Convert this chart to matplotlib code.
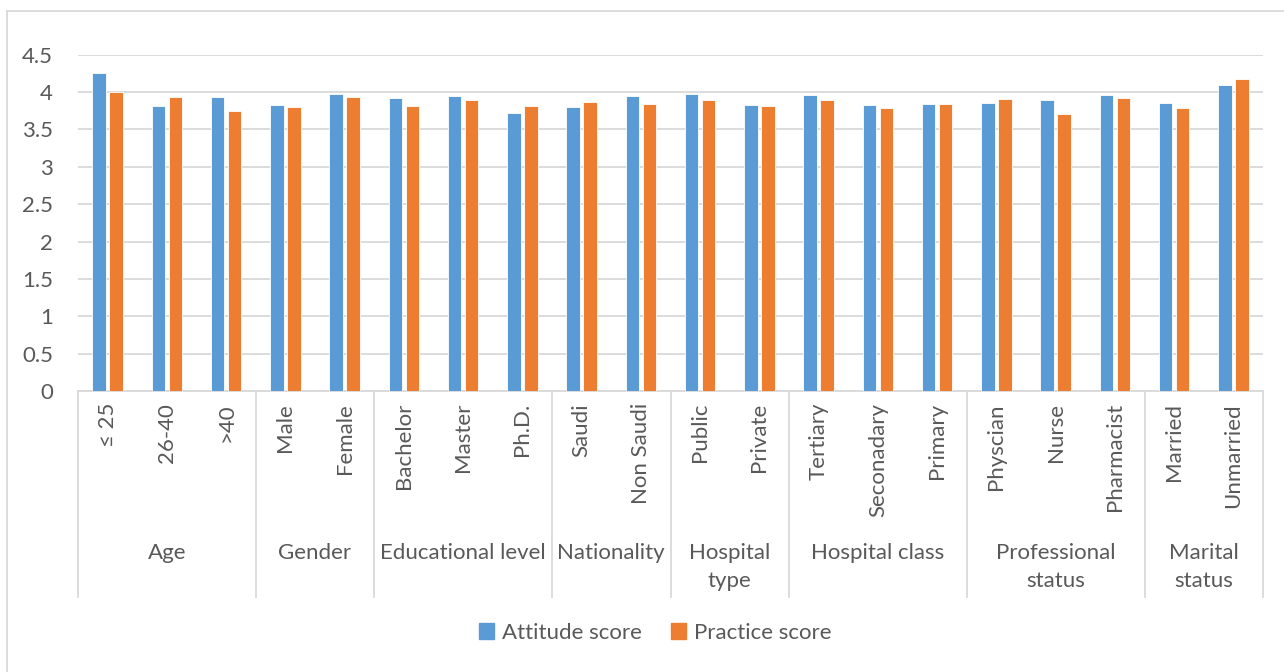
import numpy as np
import matplotlib.pyplot as plt
from matplotlib.patches import Patch
from matplotlib.lines import Line2D

# data
groups = ["Age", "Gender", "Educational level", "Nationality", "Hospital\ntype",
          "Hospital class", "Professional\nstatus", "Marital\nstatus"]
group_sizes = [3, 2, 3, 2, 2, 3, 3, 2]
categories = ["\u2264 25", "26-40", ">40", "Male", "Female", "Bachelor", "Master", "Ph.D.",
              "Saudi", "Non Saudi", "Public", "Private", "Tertiary", "Seconadary", "Primary",
              "Physcian", "Nurse", "Pharmacist", "Married", "Unmarried"]
attitude = [4.25, 3.81, 3.94, 3.83, 3.98, 3.92, 3.95, 3.72, 3.80, 3.95,
            3.97, 3.83, 3.96, 3.83, 3.84, 3.86, 3.90, 3.96, 3.86, 4.09]
practice = [4.00, 3.94, 3.74, 3.80, 3.93, 3.81, 3.90, 3.82, 3.87, 3.84,
            3.89, 3.82, 3.90, 3.79, 3.84, 3.91, 3.70, 3.92, 3.79, 4.18]
series_names = ["Attitude score", "Practice score"]

W, H = 1284, 672
BLUE, ORANGE = "#5B9BD5", "#ED7D31"
GRID = "#d9d9d9"
TXT = "#595959"
FS = 16

plt.rcParams['font.family'] = ['Lato', 'DejaVu Sans']

fig = plt.figure(figsize=(W / 100, H / 100), dpi=100)
# plot area in pixels: x 78..1263, y 54.7..391
left, right, top, bottom = 78, 1263, 54.7, 391
ax = fig.add_axes([left / W, 1 - bottom / H, (right - left) / W, (bottom - top) / H])

x = np.arange(len(categories))
bw = 0.225
off = 0.143
ax.bar(x - off, attitude, bw, color=BLUE, edgecolor="white", linewidth=0.6, zorder=3)
ax.bar(x + off, practice, bw, color=ORANGE, edgecolor="white", linewidth=0.6, zorder=3)

ax.set_xlim(-0.5, len(categories) - 0.5)
ax.set_ylim(0, 4.5)
ax.set_yticks(np.arange(0, 4.51, 0.5))
ax.set_yticklabels(["0", "0.5", "1", "1.5", "2", "2.5", "3", "3.5", "4", "4.5"])
ax.tick_params(axis="y", length=0, pad=18, labelsize=FS, labelcolor=TXT)
ax.set_xticks([])
ax.grid(axis="y", color=GRID, linewidth=1.3, zorder=0)
for s in ["left", "right", "top"]:
    ax.spines[s].set_visible(False)
ax.spines["bottom"].set_color(GRID)
ax.spines["bottom"].set_linewidth(1.3)


def ay(py):
    # pixel row in figure -> axes fraction y
    return (bottom - py) / (bottom - top)


tr = ax.get_xaxis_transform()
# category labels, rotated
for i, c in enumerate(categories):
    ax.text(i, ay(403), c, rotation=90, ha="center", va="top", fontsize=FS,
            color=TXT, transform=tr, clip_on=False)

# group separators and labels
bounds = np.concatenate([[0], np.cumsum(group_sizes)])
for b in bounds:
    ax.add_line(Line2D([b - 0.5, b - 0.5], [0, ay(597)], transform=tr, color=GRID,
                       linewidth=1.3, clip_on=False))
for g, a, b in zip(groups, bounds[:-1], bounds[1:]):
    ax.text((a + b - 1) / 2, ay(543), g, ha="center", va="top", fontsize=FS,
            color=TXT, transform=tr, linespacing=1.5, clip_on=False)

# chart border
fig.add_artist(Line2D([7 / W, 1], [1 - 11 / H, 1 - 11 / H], color=GRID, linewidth=1.3))
fig.add_artist(Line2D([7 / W, 7 / W], [0, 1 - 11 / H], color=GRID, linewidth=1.3))

handles = [Patch(color=BLUE), Patch(color=ORANGE)]
fig.legend(handles, series_names, loc="center", bbox_to_anchor=(655 / W, 1 - 633 / H),
           ncol=2, frameon=False, fontsize=FS, labelcolor=TXT, handlelength=0.7,
           handleheight=0.7, handletextpad=0.35, columnspacing=1.3)

fig.savefig("out.png", dpi=100)
